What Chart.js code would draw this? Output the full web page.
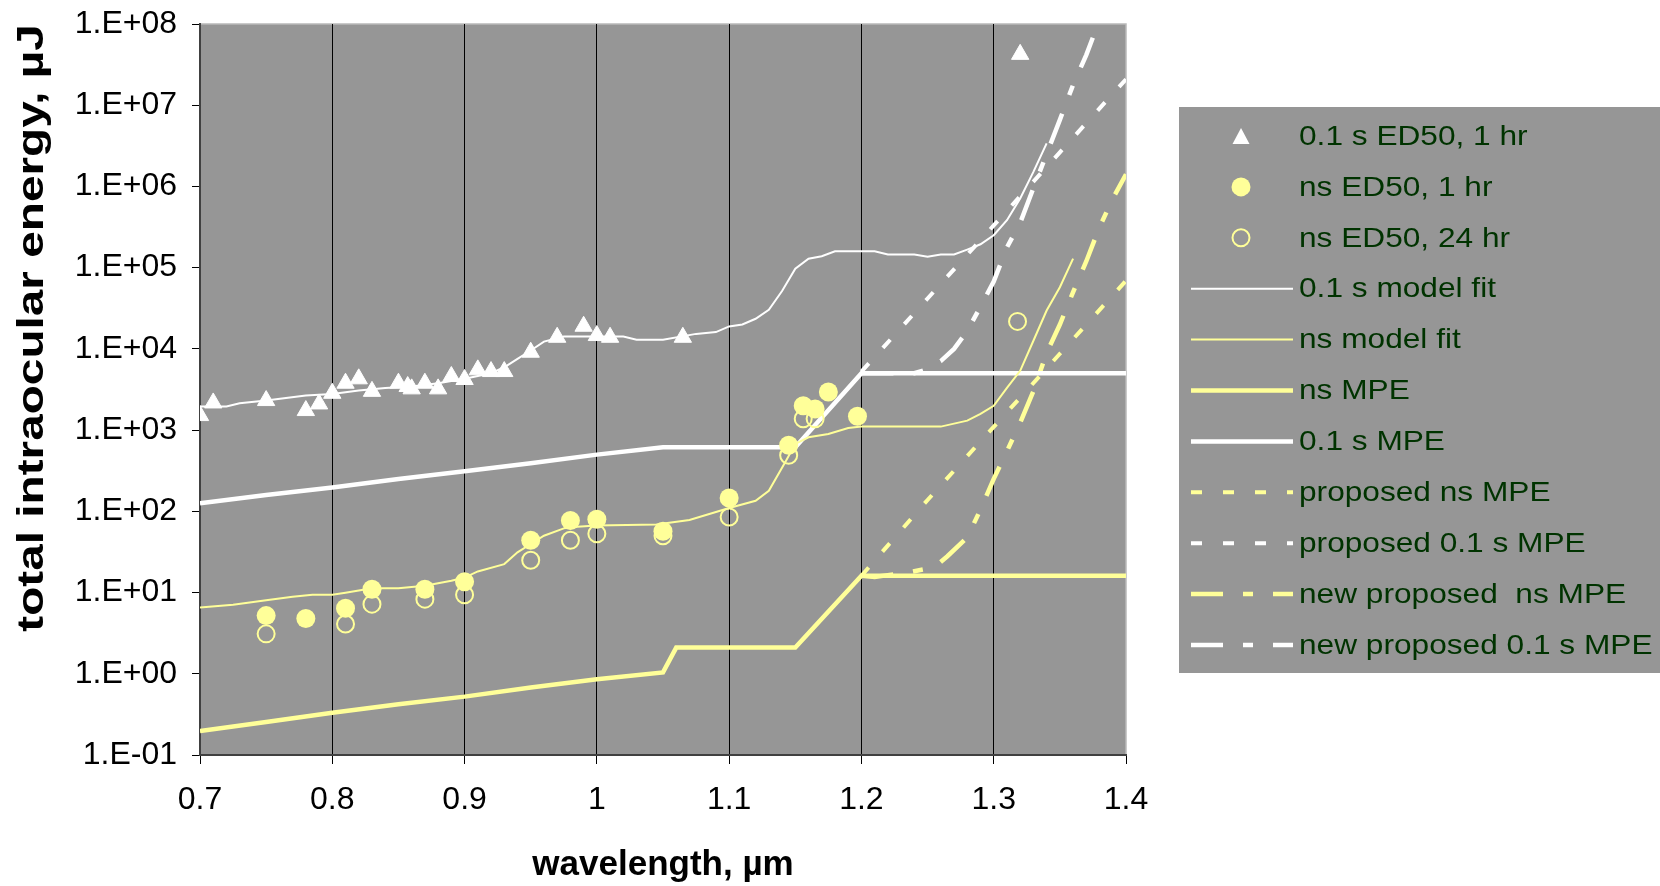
<!DOCTYPE html>
<html>
<head>
<meta charset="utf-8">
<title>Total intraocular energy vs wavelength</title>
<script src="https://cdn.jsdelivr.net/npm/chart.js"></script>
<style>
  html, body { margin: 0; padding: 0; background: #ffffff; }
  #wrap { width: 1660px; height: 886px; }
</style>
</head>
<body>
<div id="wrap"><canvas id="myChart" width="1660" height="886"></canvas></div>
<script>
// Axis ticks
const xTicks = [0.7, 0.8, 0.9, 1.0, 1.1, 1.2, 1.3, 1.4];
const yTicks = [1e-1, 1e0, 1e1, 1e2, 1e3, 1e4, 1e5, 1e6, 1e7, 1e8];

// 0.1 s ED50, 1 hr (triangles)
const ed50LongWl = [0.70, 0.71, 0.75, 0.78, 0.79, 0.80, 0.81, 0.82, 0.83, 0.85, 0.857, 0.86, 0.87, 0.88, 0.89, 0.90, 0.91, 0.92, 0.93, 0.95, 0.97, 0.99, 1.00, 1.01, 1.065, 1.32];
const ed50LongUj = [1510, 2160, 2310, 1740, 2100, 2840, 3780, 4280, 3000, 3780, 3440, 3220, 3780, 3220, 4570, 4200, 5520, 5260, 5260, 9100, 13900, 19000, 14600, 13900, 13900, 42300000];

// ns ED50, 1 hr (filled circles)
const ed50NsWl = [0.75, 0.78, 0.81, 0.83, 0.87, 0.90, 0.95, 0.98, 1.00, 1.05, 1.10, 1.145, 1.156, 1.165, 1.175, 1.197];
const ed50NsUj = [5.2, 4.8, 6.4, 11.0, 11.0, 13.6, 44, 77, 80, 57, 146, 650, 2000, 1820, 2950, 1480];

// ns ED50, 24 hr (open circles)
const ed50Ns24Wl = [0.75, 0.81, 0.83, 0.87, 0.90, 0.95, 0.98, 1.00, 1.05, 1.10, 1.145, 1.156, 1.165, 1.318];
const ed50Ns24Uj = [3.1, 4.1, 7.2, 8.3, 9.4, 25, 44, 53, 50, 85, 490, 1380, 1380, 21800];

// 0.1 s model fit
const fitLongWl = [0.70, 0.72, 0.73, 0.75, 0.765, 0.78, 0.80, 0.82, 0.84, 0.86, 0.88, 0.90, 0.92, 0.93, 0.94, 0.95, 0.96, 0.975, 1.02, 1.03, 1.05, 1.075, 1.09, 1.10, 1.11, 1.12, 1.13, 1.14, 1.15, 1.16, 1.17, 1.18, 1.21, 1.22, 1.24, 1.25, 1.26, 1.27, 1.28, 1.29, 1.30, 1.31, 1.32, 1.33, 1.34];
const fitLongUj = [1950, 1950, 2140, 2310, 2490, 2660, 2790, 3070, 3310, 3440, 3780, 4280, 5010, 5940, 7550, 9550, 12300, 14200, 14200, 13000, 13000, 15300, 16100, 18900, 20000, 23500, 30300, 51500, 97300, 129000, 138000, 159000, 159000, 145000, 145000, 136000, 145000, 145000, 167000, 194000, 251000, 384000, 711000, 1510000, 3390000];

// ns model fit
const fitNsWl = [0.70, 0.725, 0.75, 0.77, 0.785, 0.80, 0.81, 0.83, 0.85, 0.87, 0.89, 0.90, 0.91, 0.93, 0.94, 0.95, 0.96, 0.975, 0.985, 1.00, 1.045, 1.07, 1.085, 1.10, 1.12, 1.13, 1.143, 1.15, 1.16, 1.175, 1.19, 1.20, 1.26, 1.28, 1.29, 1.30, 1.31, 1.32, 1.33, 1.34, 1.35, 1.36];
const fitNsUj = [6.53, 7.06, 8.05, 8.85, 9.38, 9.38, 9.93, 11.3, 11.3, 12.1, 14.0, 15.3, 18.2, 22.4, 31.3, 39.6, 50.1, 61.7, 64.6, 67.0, 69, 78.2, 92.7, 110, 135, 179, 420, 676, 815, 897, 1064, 1104, 1104, 1309, 1585, 1995, 3310, 5370, 12600, 29700, 57500, 129000];

// ns MPE
const mpeNsWl = [0.70, 0.75, 0.80, 0.85, 0.90, 0.95, 1.00, 1.05, 1.06, 1.15, 1.20, 1.40];
const mpeNsUj = [0.197, 0.255, 0.332, 0.421, 0.523, 0.679, 0.857, 1.04, 2.1, 2.1, 16.1, 16.1];

// 0.1 s MPE
const mpeLongWl = [0.70, 0.75, 0.80, 0.85, 0.90, 0.95, 1.00, 1.05, 1.15, 1.20, 1.40];
const mpeLongUj = [126, 159, 197, 250, 311, 390, 499, 614, 614, 5010, 5010];

// proposed ns MPE
const propNsWl = [1.20, 1.25, 1.30, 1.35, 1.40];
const propNsUj = [16.1, 138, 1096, 8710, 69200];

// proposed 0.1 s MPE
const propLongWl = [1.20, 1.25, 1.30, 1.35, 1.40];
const propLongUj = [5250, 41700, 331000, 2630000, 20900000];

// new proposed ns MPE
const newNsWl = [1.20, 1.21, 1.235, 1.255, 1.265, 1.28, 1.29, 1.30, 1.31, 1.32, 1.33, 1.34, 1.35, 1.36, 1.37, 1.38, 1.39, 1.40];
const newNsUj = [16.1, 15.6, 17.7, 20.4, 28, 47.9, 105, 251, 550, 1230, 3020, 8910, 19950, 50100, 120000, 316000, 708000, 1410000];

// new proposed 0.1 s MPE
const newLongWl = [1.20, 1.24, 1.25, 1.26, 1.27, 1.28, 1.29, 1.30, 1.31, 1.32, 1.33, 1.34, 1.35, 1.36, 1.37, 1.38];
const newLongUj = [5010, 5010, 5620, 7080, 10000, 16600, 33100, 67600, 178000, 355000, 955000, 2510000, 6610000, 17800000, 41700000, 112000000];

const yTitle = 'total intraocular energy, µJ';
const xTitle = 'wavelength, µm';

const pts = (xs, ys) => xs.map((x, i) => ({ x: x, y: ys[i] }));

const WHITE = '#ffffff';
const YELLOW = '#ffff99';
const PLOT_BG = '#969696';
const FONT = '"Liberation Sans", Arial, sans-serif';

Chart.defaults.font.family = FONT;
Chart.defaults.color = '#000000';

function lineSet(label, xs, ys, color, width, dash) {
    return {
        label: label,
        data: pts(xs, ys),
        showLine: true,
        borderColor: color,
        backgroundColor: color,
        borderWidth: width,
        borderDash: dash || [],
        borderCapStyle: 'butt',
        pointRadius: 0,
        tension: 0
    };
}

const datasets = [
    {
        label: '0.1 s ED50, 1 hr',
        data: pts(ed50LongWl, ed50LongUj),
        pointStyle: 'triangle',
        pointRadius: 10,
        pointBackgroundColor: WHITE,
        pointBorderColor: WHITE,
        pointBorderWidth: 1
    },
    {
        label: 'ns ED50, 1 hr',
        data: pts(ed50NsWl, ed50NsUj),
        pointStyle: 'circle',
        pointRadius: 9.5,
        pointBackgroundColor: YELLOW,
        pointBorderColor: YELLOW,
        pointBorderWidth: 0
    },
    {
        label: 'ns ED50, 24 hr',
        data: pts(ed50Ns24Wl, ed50Ns24Uj),
        pointStyle: 'circle',
        pointRadius: 8.5,
        pointBackgroundColor: 'rgba(0,0,0,0)',
        pointBorderColor: YELLOW,
        pointBorderWidth: 2
    },
    lineSet('0.1 s model fit', fitLongWl, fitLongUj, WHITE, 2),
    lineSet('ns model fit', fitNsWl, fitNsUj, YELLOW, 2),
    lineSet('ns MPE', mpeNsWl, mpeNsUj, YELLOW, 4.5),
    lineSet('0.1 s MPE', mpeLongWl, mpeLongUj, WHITE, 4.5),
    lineSet('proposed ns MPE', propNsWl, propNsUj, YELLOW, 4, [11, 21]),
    lineSet('proposed 0.1 s MPE', propLongWl, propLongUj, WHITE, 4, [11, 21]),
    lineSet('new proposed  ns MPE', newNsWl, newNsUj, YELLOW, 4.5, [32, 20, 10, 20]),
    lineSet('new proposed 0.1 s MPE', newLongWl, newLongUj, WHITE, 4.5, [32, 20, 10, 20])
];

// gray plot area and light frame on top / right
const plotArea = {
    id: 'plotArea',
    beforeDraw(chart) {
        const { ctx, chartArea: a } = chart;
        ctx.save();
        ctx.fillStyle = '#ffffff';
        ctx.fillRect(0, 0, chart.width, chart.height);
        ctx.fillStyle = PLOT_BG;
        ctx.fillRect(a.left, a.top, a.right - a.left, a.bottom - a.top);
        ctx.strokeStyle = '#b9b9b9';
        ctx.lineWidth = 1.5;
        ctx.beginPath();
        ctx.moveTo(a.left, a.top);
        ctx.lineTo(a.right, a.top);
        ctx.lineTo(a.right, a.bottom);
        ctx.stroke();
        ctx.restore();
    },
    // y title is drawn here, stretched along its length like the original
    afterDraw(chart) {
        const ctx = chart.ctx;
        ctx.save();
        ctx.translate(33, 328);
        ctx.rotate(-Math.PI / 2);
        ctx.scale(1.29, 1);
        ctx.font = 'bold 37px ' + FONT;
        ctx.fillStyle = '#000';
        ctx.textAlign = 'center';
        ctx.textBaseline = 'middle';
        ctx.fillText(yTitle, 0, 0);
        ctx.restore();
    }
};

// legend box on the right, Excel style
const sideLegend = {
    id: 'sideLegend',
    afterDraw(chart) {
        const ctx = chart.ctx;
        const boxX = 1179, boxY = 107, boxW = 481, boxH = 566;
        const rowY0 = 136, rowStep = 50.9;
        const markX = 1241, lineX0 = 1191, lineX1 = 1293, textX = 1299;
        ctx.save();
        ctx.fillStyle = PLOT_BG;
        ctx.fillRect(boxX, boxY, boxW, boxH);
        chart.data.datasets.forEach((ds, i) => {
            const y = rowY0 + i * rowStep;
            if (ds.showLine) {
                ctx.save();
                ctx.strokeStyle = ds.borderColor;
                ctx.lineWidth = ds.borderWidth;
                ctx.setLineDash(ds.borderDash || []);
                ctx.lineCap = 'butt';
                ctx.beginPath();
                ctx.moveTo(lineX0, y);
                ctx.lineTo(lineX1, y);
                ctx.stroke();
                ctx.restore();
            } else if (ds.pointStyle === 'triangle') {
                ctx.fillStyle = ds.pointBackgroundColor;
                ctx.beginPath();
                ctx.moveTo(markX - 8.5, y + 8);
                ctx.lineTo(markX + 8.5, y + 8);
                ctx.lineTo(markX, y - 8);
                ctx.closePath();
                ctx.fill();
            } else {
                ctx.beginPath();
                ctx.arc(markX, y, ds.pointRadius, 0, Math.PI * 2);
                ctx.fillStyle = ds.pointBackgroundColor;
                ctx.fill();
                if (ds.pointBorderWidth) {
                    ctx.lineWidth = ds.pointBorderWidth;
                    ctx.strokeStyle = ds.pointBorderColor;
                    ctx.stroke();
                }
            }
            ctx.save();
            ctx.translate(textX, y);
            ctx.scale(1.13, 1);
            ctx.fillStyle = '#003300';
            ctx.font = '28px ' + FONT;
            ctx.textBaseline = 'middle';
            ctx.textAlign = 'left';
            ctx.fillText(ds.label, 0, 1);
            ctx.restore();
        });
        ctx.restore();
    }
};

function sciLabel(v) {
    const e = Math.round(Math.log10(v));
    const s = String(Math.abs(e)).padStart(2, '0');
    return '1.E' + (e < 0 ? '-' : '+') + s;
}

const ctx = document.getElementById('myChart').getContext('2d');
const myChart = new Chart(ctx, {
    type: 'scatter',
    data: { datasets: datasets },
    options: {
        responsive: false,
        animation: false,
        devicePixelRatio: 1,
        layout: { padding: { top: 24, right: 534, left: 0, bottom: 0 } },
        plugins: {
            legend: { display: false },
            tooltip: { enabled: false }
        },
        scales: {
            x: {
                type: 'linear',
                min: 0.7,
                max: 1.4,
                afterBuildTicks: axis => { axis.ticks = xTicks.map(v => ({ value: v })); },
                afterFit: axis => {
                    axis.height = 131;
                    axis.paddingLeft = 0;
                    axis.paddingRight = 0;
                },
                ticks: {
                    autoSkip: false,
                    maxRotation: 0,
                    padding: 17,
                    color: '#000',
                    font: { size: 32 },
                    callback: v => String(Number(v.toFixed(1)))
                },
                grid: {
                    color: c => (c.tick && (c.tick.value <= 0.7 || c.tick.value >= 1.4)) ? 'rgba(0,0,0,0)' : '#000000',
                    lineWidth: 1,
                    tickColor: '#000000',
                    tickLength: 9
                },
                border: { color: '#404040', width: 2 },
                title: {
                    display: true,
                    text: xTitle,
                    color: '#000',
                    font: { size: 35, weight: 'bold' },
                    padding: { top: 0, bottom: 0 }
                }
            },
            y: {
                type: 'logarithmic',
                min: 0.1,
                max: 1e8,
                afterBuildTicks: axis => { axis.ticks = yTicks.map(v => ({ value: v })); },
                afterFit: axis => {
                    axis.width = 200;
                    axis.paddingTop = 0;
                    axis.paddingBottom = 0;
                },
                ticks: {
                    autoSkip: false,
                    padding: 15,
                    color: '#000',
                    font: { size: 32 },
                    callback: v => sciLabel(v)
                },
                grid: {
                    drawOnChartArea: false,
                    tickColor: '#000000',
                    tickLength: 8
                },
                border: { color: '#404040', width: 2 },
                title: { display: false }
            }
        }
    },
    plugins: [plotArea, sideLegend]
});
</script>
</body>
</html>
